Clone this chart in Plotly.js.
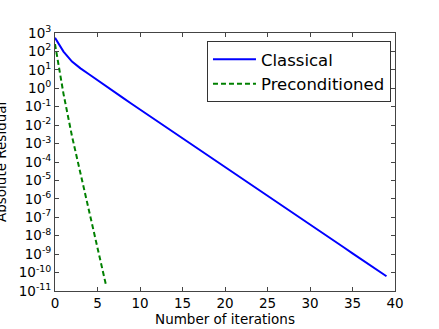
<!DOCTYPE html>
<html>
<head>
<meta charset="utf-8">
<script src="https://cdn.plot.ly/plotly-3.0.1.min.js"></script>
<style>
  body { margin: 0; padding: 0; background: #fff; }
  #plot { width: 439px; height: 329px; }
</style>
</head>
<body>
<div id="plot"></div>
<script>
// iterations and residuals
var itersClassical = [0, 1, 2, 3, 4, 5, 6, 7, 8, 9, 10, 11, 12, 13, 14, 15, 16, 17, 18, 19,
  20, 21, 22, 23, 24, 25, 26, 27, 28, 29, 30, 31, 32, 33, 34, 35, 36, 37, 38, 39];
var residClassical = [550, 98, 28, 12, 5.8, 2.7, 1.26, 0.62, 0.30, 0.145,
  0.071, 0.035, 0.017, 8.3e-3, 4.0e-3, 1.95e-3, 9.5e-4, 4.7e-4, 2.3e-4, 1.1e-4,
  5.4e-5, 2.6e-5, 1.3e-5, 6.3e-6, 3.0e-6, 1.5e-6, 7.2e-7, 3.5e-7, 1.7e-7, 8.3e-8,
  4.1e-8, 2.0e-8, 9.8e-9, 4.8e-9, 2.3e-9, 1.1e-9, 5.5e-10, 2.7e-10, 1.3e-10, 6.3e-11];
var itersPrecond = [0, 1, 2, 3, 4, 5, 6];
var residPrecond = [250, 0.5, 2.5e-3, 2.2e-5, 2.1e-7, 2.0e-9, 2.1e-11];

// y tick labels
var yTickVals = [1e3, 1e2, 1e1, 1e0, 1e-1, 1e-2, 1e-3, 1e-4, 1e-5, 1e-6, 1e-7, 1e-8, 1e-9, 1e-10, 1e-11];
var yTickText = ['10<sup>3</sup>', '10<sup>2</sup>', '10<sup>1</sup>', '10<sup>0</sup>',
  '10<sup>-1</sup>', '10<sup>-2</sup>', '10<sup>-3</sup>', '10<sup>-4</sup>', '10<sup>-5</sup>',
  '10<sup>-6</sup>', '10<sup>-7</sup>', '10<sup>-8</sup>', '10<sup>-9</sup>', '10<sup>-10</sup>',
  '10<sup>-11</sup>'];

function drawplot(){
	var trace1 = {
	  x: itersClassical,
	  y: residClassical,
	  name: 'Classical',
	  type: 'scatter',
	  mode: 'lines',
	  line: {color: '#0000ff', width: 2}
	};
	var trace2 = {
	  x: itersPrecond,
	  y: residPrecond,
	  name: 'Preconditioned',
	  type: 'scatter',
	  mode: 'lines',
	  line: {color: '#008000', width: 2, dash: '5px,3px'}
	};
	var axfont = {family: 'DejaVu Sans', size: 13.5, color: '#000'};
	var layout = {
	  width: 439, height: 329,
	  margin: {l: 55, r: 44, t: 33, b: 38},
	  paper_bgcolor: '#fff', plot_bgcolor: '#fff',
	  font: {family: 'DejaVu Sans', color: '#000'},
	  showlegend: true,
	  legend: {
	    x: 0.447, y: 0.969, xanchor: 'left', yanchor: 'top',
	    bordercolor: '#333', borderwidth: 1, bgcolor: '#fff',
	    font: {family: 'DejaVu Sans', size: 16.5, color: '#000'},
	    itemwidth: 43, tracegroupgap: 0
	  },
	  xaxis: {
	    range: [0, 40], dtick: 5, tick0: 0,
	    showgrid: false, zeroline: false,
	    showline: true, linecolor: '#444', linewidth: 1, mirror: 'ticks',
	    ticks: 'inside', ticklen: 4, tickcolor: '#444',
	    tickfont: axfont,
	    title: {text: 'Number of iterations', font: {family: 'DejaVu Sans', size: 13.5, color: '#000'}, standoff: 3}
	  },
	  yaxis: {
	    type: 'log', range: [-11, 3],
	    tickmode: 'array', tickvals: yTickVals, ticktext: yTickText,
	    showgrid: false, zeroline: false,
	    showline: true, linecolor: '#444', linewidth: 1, mirror: 'ticks',
	    ticks: 'inside', ticklen: 4, tickcolor: '#444',
	    tickfont: axfont
	  },
	  annotations: [{
	    text: 'Absolute Residual', textangle: -90,
	    xref: 'paper', yref: 'paper', x: -55 / 340, y: 0.5,
	    xanchor: 'center', yanchor: 'middle', xshift: 1,
	    showarrow: false,
	    font: {family: 'DejaVu Sans', size: 13.5, color: '#000'}
	  }]
	};
	Plotly.newPlot('plot', [trace1, trace2], layout, {displayModeBar: false, staticPlot: true});
};
drawplot();
</script>
</body>
</html>
